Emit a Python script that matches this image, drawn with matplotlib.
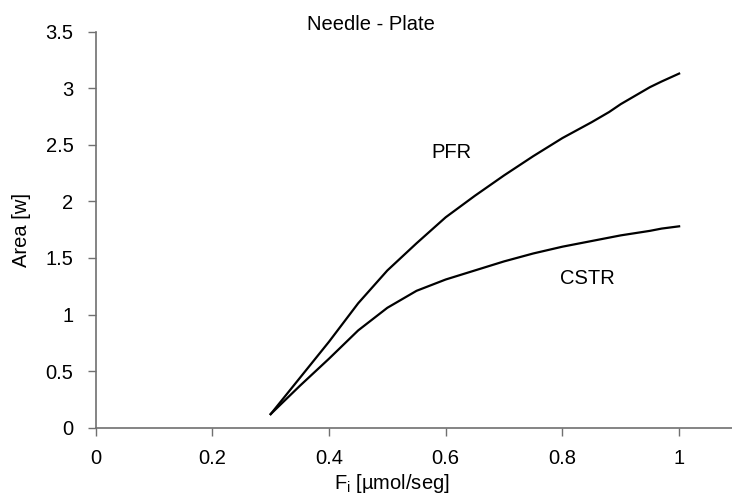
import matplotlib
matplotlib.use("Agg")
import matplotlib.pyplot as plt

plt.rcParams['font.family'] = ['Liberation Sans', 'DejaVu Sans']
plt.rcParams['mathtext.fontset'] = 'custom'
plt.rcParams['mathtext.rm'] = 'Liberation Sans'
plt.rcParams['mathtext.it'] = 'Liberation Sans:italic'

# Data
fi = [0.30, 0.35, 0.40, 0.45, 0.50, 0.55, 0.60, 0.65, 0.70, 0.75, 0.80, 0.85, 0.88, 0.90, 0.95, 0.97, 1.00]
pfr = [0.12, 0.44, 0.76, 1.10, 1.39, 1.63, 1.86, 2.05, 2.23, 2.40, 2.56, 2.70, 2.79, 2.86, 3.01, 3.06, 3.13]
cstr = [0.12, 0.37, 0.61, 0.86, 1.06, 1.21, 1.31, 1.39, 1.47, 1.54, 1.60, 1.65, 1.68, 1.70, 1.74, 1.76, 1.78]

title = "Needle - Plate"
xlabel = "F$_\\mathrm{i}$ [µmol/seg]"
ylabel = "Area [w]"
xticks = [0, 0.2, 0.4, 0.6, 0.8, 1.0]
xticklabels = ["0", "0.2", "0.4", "0.6", "0.8", "1"]
yticks = [0, 0.5, 1, 1.5, 2, 2.5, 3, 3.5]
yticklabels = ["0", "0.5", "1", "1.5", "2", "2.5", "3", "3.5"]

FS = 14.5
W, H = 732, 497
fig = plt.figure(figsize=(W / 100, H / 100), dpi=100)
ax = fig.add_axes([0.1306, 0.1394, 0.8689, 0.7968])

ax.plot(fi, pfr, color='black', lw=1.6)
ax.plot(fi, cstr, color='black', lw=1.6)

ax.set_xlim(0, 1.09)
ax.set_ylim(0, 3.5)
ax.set_xticks(xticks)
ax.set_xticklabels(xticklabels)
ax.set_yticks(yticks)
ax.set_yticklabels(yticklabels)

for s in ['top', 'right']:
    ax.spines[s].set_visible(False)
for s in ['left', 'bottom']:
    ax.spines[s].set_color('#707070')
    ax.spines[s].set_linewidth(1.2)

ax.tick_params(axis='both', direction='out', length=6, width=1, color='#707070',
               labelsize=FS, labelcolor='black')
ax.tick_params(axis='x', pad=9)
ax.tick_params(axis='y', pad=10)

ax.text(0.472, 3.516, title, ha='center', va='baseline', fontsize=FS)
ax.text(0.609, 2.43, "PFR", fontsize=FS, ha='center', va='center')
ax.text(0.842, 1.315, "CSTR", fontsize=FS, ha='center', va='center')

fig.text(391.5 / W, 2 / H, xlabel, fontsize=FS, ha='center', va='bottom')
fig.text(21.5 / W, 1 - 229.7 / H, ylabel, fontsize=FS, ha='center', va='center', rotation=90)

fig.savefig("out.png", dpi=100)
